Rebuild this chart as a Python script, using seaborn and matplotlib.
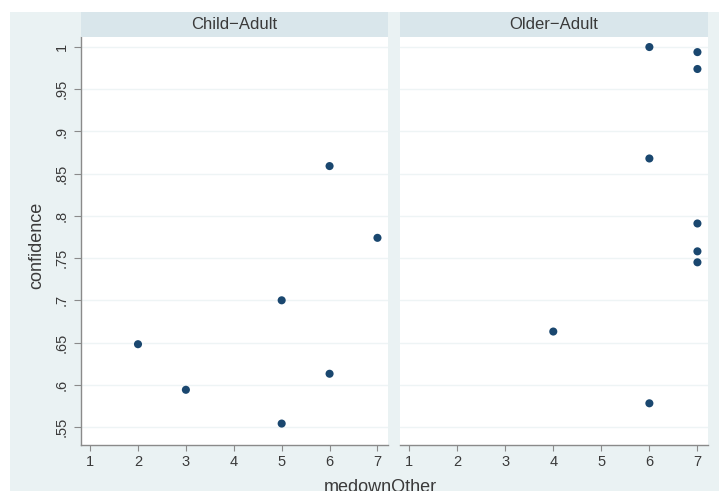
import numpy as np
import pandas as pd
import matplotlib
matplotlib.use("Agg")
import matplotlib.pyplot as plt
import seaborn as sns

# Confidence ratings by medownOther score, split by comparison group
child_x = [2, 3, 5, 5, 6, 6, 7]
child_y = [0.648, 0.594, 0.700, 0.554, 0.859, 0.613, 0.774]
older_x = [6, 7, 7, 6, 7, 7, 7, 4, 6]
older_y = [1.000, 0.994, 0.974, 0.868, 0.791, 0.758, 0.745, 0.663, 0.578]
panels = ["Child\u2212Adult", "Older\u2212Adult"]

x_ticks = [1, 2, 3, 4, 5, 6, 7]
y_ticks = [0.55, 0.6, 0.65, 0.7, 0.75, 0.8, 0.85, 0.9, 0.95, 1.0]
y_tick_labels = [".55", ".6", ".65", ".7", ".75", ".8", ".85", ".9", ".95", "1"]

df = pd.DataFrame({
    "medownOther": child_x + older_x,
    "confidence": child_y + older_y,
    "group": [panels[0]] * len(child_x) + [panels[1]] * len(older_x),
})

sns.set_theme(style="white")
plt.rcParams["font.family"] = ["Liberation Sans", "DejaVu Sans"]

BG = "#eaf2f3"
STRIP = "#d9e6eb"
MARK = "#1a476f"
TXT = "#3a3a3a"
AXC = "#8a8a8a"

W, H = 719, 491
fig = plt.figure(figsize=(W / 100, H / 100), dpi=100)
fig.patch.set_facecolor("white")

# outer graph region
bg = fig.add_axes([10 / W, 0, 1 - 10 / W, (H - 12) / H], zorder=-10)
bg.set_facecolor(BG)
bg.set_xticks([])
bg.set_yticks([])
for s in bg.spines.values():
    s.set_visible(False)

plot_boxes = [(81, 388), (400, 708)]
top_px, bot_px = 37, 445
for i, (g, (x0, x1)) in enumerate(zip(panels, plot_boxes)):
    ax = fig.add_axes([x0 / W, (H - bot_px) / H, (x1 - x0) / W, (bot_px - top_px) / H])
    ax.set_facecolor("white")
    sub = df[df["group"] == g]
    sns.scatterplot(data=sub, x="medownOther", y="confidence", ax=ax, color=MARK,
                    s=34, edgecolor="none", linewidth=0, zorder=3, legend=False)
    ax.set_xlim(0.81, 7.22)
    ax.set_ylim(0.5286, 1.0119)
    ax.set_xticks(x_ticks)
    ax.set_xticklabels([str(v) for v in x_ticks], fontsize=10.5, color=TXT)
    ax.set_yticks(y_ticks)
    for yv in y_ticks:
        ax.axhline(yv, color="#eef4f5", lw=1.0, zorder=1)
    ax.tick_params(axis="x", direction="out", length=4, width=0.8, color=AXC, pad=3,
                   bottom=True)
    for s in ["top", "right"]:
        ax.spines[s].set_visible(False)
    ax.spines["bottom"].set_color(AXC)
    ax.spines["bottom"].set_linewidth(1.0)
    if i == 0:
        ax.set_yticklabels(y_tick_labels, fontsize=10.5, color=TXT, rotation=90,
                           va="center")
        ax.tick_params(axis="y", direction="out", length=5, width=0.8, color=AXC, pad=4,
                       left=True)
        ax.spines["left"].set_color(AXC)
        ax.spines["left"].set_linewidth(1.0)
    else:
        ax.set_yticklabels([])
        ax.tick_params(axis="y", left=False)
        ax.spines["left"].set_visible(False)
    ax.set_xlabel("")
    ax.set_ylabel("")

    # panel header strip
    sax = fig.add_axes([x0 / W, (H - top_px) / H, (x1 - x0) / W, 25 / H])
    sax.set_facecolor(STRIP)
    sax.set_xticks([])
    sax.set_yticks([])
    for s in sax.spines.values():
        s.set_visible(False)
    sax.text(0.5, 0.5, g, ha="center", va="center", fontsize=12, color=TXT,
             transform=sax.transAxes)

fig.text(37 / W, (H - 245) / H, "confidence", rotation=90, ha="center", va="center",
         fontsize=13, color=TXT)
fig.text(380 / W, (H - 479) / H, "medownOther", ha="center", va="top",
         fontsize=13, color=TXT)

fig.savefig("out.png", dpi=100, facecolor="white")
